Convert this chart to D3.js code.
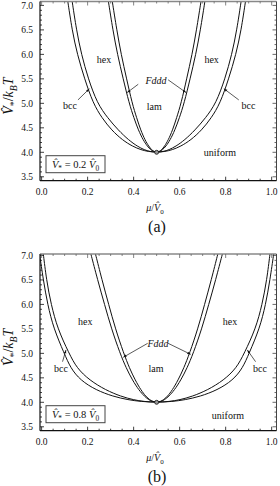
<!DOCTYPE html>
<html><head><meta charset="utf-8">
<script src="https://cdn.jsdelivr.net/npm/d3@7"></script>
<style>
body{margin:0;background:#fff}
svg{display:block}
text{font-family:"Liberation Serif","DejaVu Serif",serif;fill:#111}
</style>
</head><body>
<svg id="chart" width="280" height="486"></svg>
<script>
// ---------- data ----------
const xTicks = [0.0, 0.2, 0.4, 0.6, 0.8, 1.0];
const xTickLabels = ["0.0", "0.2", "0.4", "0.6", "0.8", "1.0"];
const yTicks = [3.5, 4.0, 4.5, 5.0, 5.5, 6.0, 6.5, 7.0];
const yTickLabels = ["3.5", "4.0", "4.5", "5.0", "5.5", "6.0", "6.5", "7.0"];

// panel (a): V* = 0.2 V0   (left branch x, right branch x, at shared y levels)
const yLevelsA = [7.09, 6.5, 6.0, 5.5, 5.0, 4.7, 4.45, 4.25, 4.12, 4.05, 4.015, 4.0];
const aUniBccL = [0.1136, 0.1324, 0.155, 0.1869, 0.2237, 0.2624, 0.3047, 0.3513, 0.396, 0.4326, 0.4631, 0.5];
const aUniBccR = [0.8864, 0.8676, 0.845, 0.8131, 0.7763, 0.7376, 0.6953, 0.6487, 0.604, 0.5674, 0.5369, 0.5];
const aBccHexL = [0.1326, 0.1514, 0.173, 0.2029, 0.2417, 0.2874, 0.3337, 0.3783, 0.417, 0.4466, 0.4707, 0.5];
const aBccHexR = [0.8674, 0.8486, 0.827, 0.7971, 0.7583, 0.7126, 0.6663, 0.6217, 0.583, 0.5534, 0.5293, 0.5];
const aHexFdddL = [0.29, 0.3097, 0.3297, 0.3546, 0.3805, 0.4014, 0.4209, 0.4415, 0.46, 0.4747, 0.4863, 0.5];
const aHexFdddR = [0.71, 0.6903, 0.6703, 0.6454, 0.6195, 0.5986, 0.5791, 0.5585, 0.54, 0.5253, 0.5137, 0.5];
const aFdddLamL = [0.3069, 0.3267, 0.3457, 0.3696, 0.3935, 0.4134, 0.4309, 0.4495, 0.466, 0.4787, 0.4883, 0.5];
const aFdddLamR = [0.6931, 0.6733, 0.6543, 0.6304, 0.6065, 0.5866, 0.5691, 0.5505, 0.534, 0.5213, 0.5117, 0.5];

// panel (b): V* = 0.8 V0
const yLevelsB = [7.07, 6.5, 6.0, 5.5, 5.0, 4.7, 4.45, 4.25, 4.12, 4.05, 4.015, 4.0];
const bUniBccL = [-0.010, 0.0073, 0.026, 0.0528, 0.0984, 0.1258, 0.1687, 0.2365, 0.3107, 0.3769, 0.4326, 0.5];
const bUniBccR = [1.010, 0.9927, 0.974, 0.9472, 0.9016, 0.8742, 0.8313, 0.7635, 0.6893, 0.6231, 0.5674, 0.5];
const bBccHexL = [0.0064, 0.0211, 0.0412, 0.0697, 0.1193, 0.1526, 0.2086, 0.2786, 0.3451, 0.4, 0.4452, 0.5];
const bBccHexR = [0.9936, 0.9789, 0.9588, 0.9303, 0.8807, 0.8474, 0.7914, 0.7214, 0.6549, 0.6, 0.5548, 0.5];
const bHexFdddL = [0.212, 0.2435, 0.2735, 0.3039, 0.3409, 0.3677, 0.3952, 0.4228, 0.4472, 0.4663, 0.4817, 0.5];
const bHexFdddR = [0.788, 0.7565, 0.7265, 0.6961, 0.6591, 0.6323, 0.6048, 0.5772, 0.5528, 0.5337, 0.5183, 0.5];
const bFdddLamL = [0.232, 0.2625, 0.2915, 0.3209, 0.3569, 0.3817, 0.4072, 0.4318, 0.4532, 0.4703, 0.4837, 0.5];
const bFdddLamR = [0.768, 0.7375, 0.7085, 0.6791, 0.6431, 0.6183, 0.5928, 0.5682, 0.5468, 0.5297, 0.5163, 0.5];

const criticalPoint = [0.5, 4.0];

// region labels: [text, x, y, italic]; arrows: [x0, y0, x1, y1]
const labelsA = [["hex", 0.271, 5.89, false], ["hex", 0.739, 5.89, false], ["bcc", 0.123, 4.955, false],
  ["bcc", 0.899, 4.95, false], ["lam", 0.49, 4.935, false], ["Fddd", 0.497, 5.47, true], ["uniform", 0.775, 4.0, false]];
const arrowsA = [[0.158, 5.07, 0.208, 5.30], [0.857, 5.07, 0.792, 5.30], [0.42, 5.39, 0.372, 5.22], [0.55, 5.48, 0.628, 5.22]];
const labelsB = [["hex", 0.19, 5.65, false], ["hex", 0.819, 5.65, false], ["bcc", 0.084, 4.70, false],
  ["bcc", 0.949, 4.70, false], ["lam", 0.497, 4.70, false], ["Fddd", 0.506, 5.2, true], ["uniform", 0.81, 3.74, false]];
const arrowsB = [[0.091, 4.83, 0.106, 5.07], [0.93, 4.83, 0.894, 5.07], [0.461, 5.205, 0.355, 4.92], [0.55, 5.205, 0.648, 4.98]];

// ---------- drawing ----------
const svg = d3.select("#chart");
const defs = svg.append("defs");
defs.append("marker").attr("id", "arr").attr("viewBox", "0 0 10 10").attr("refX", 10).attr("refY", 5)
  .attr("markerWidth", 5).attr("markerHeight", 5).attr("orient", "auto")
  .append("path").attr("d", "M0,1.5L10,5L0,8.5z").attr("fill", "#111");

function mathText(sel, parts, size) {
  let prevSub = false;
  parts.forEach(p => {
    const ts = sel.append("tspan").text(p.t);
    if (p.it) ts.attr("font-style", "italic");
    if (p.sub) { ts.attr("font-size", size * 0.7).attr("dy", size * 0.28); prevSub = true; }
    else if (prevSub) { ts.attr("dy", -size * 0.28); prevSub = false; }
  });
}

const panels = [
  { id: "a", yLevels: yLevelsA, curves: [[aUniBccL, aUniBccR], [aBccHexL, aBccHexR], [aHexFdddL, aHexFdddR], [aFdddLamL, aFdddLamR]],
    yDomain: [3.42, 7.08], top: 1.5, bottom: 180.7, vstar: "0.2", tag: "(a)", labels: labelsA, arrows: arrowsA },
  { id: "b", yLevels: yLevelsB, curves: [[bUniBccL, bUniBccR], [bBccHexL, bBccHexR], [bHexFdddL, bHexFdddR], [bFdddLamL, bFdddLamR]],
    yDomain: [3.42, 7.03], top: 254, bottom: 430.7, vstar: "0.8", tag: "(b)", labels: labelsB, arrows: arrowsB }
];

const left = 40, right = 276.5;

panels.forEach(P => {
  const x = d3.scaleLinear().domain([-0.007, 1.021]).range([left, right]);
  const y = d3.scaleLinear().domain(P.yDomain).range([P.bottom, P.top]);
  const g = svg.append("g");

  defs.append("clipPath").attr("id", "clip" + P.id).append("rect")
    .attr("x", left).attr("y", P.top).attr("width", right - left).attr("height", P.bottom - P.top);

  // curves (smooth B-spline through the read points)
  const line = d3.line().x(d => x(d[0])).y(d => y(d[1])).curve(d3.curveBasis);
  const cg = g.append("g").attr("clip-path", `url(#clip${P.id})`);
  P.curves.forEach(([xl, xr]) => {
    const pts = [];
    xl.forEach((v, i) => pts.push([v, P.yLevels[i]]));
    for (let i = xr.length - 2; i >= 0; i--) pts.push([xr[i], P.yLevels[i]]);
    cg.append("path").attr("d", line(pts)).attr("fill", "none").attr("stroke", "#111").attr("stroke-width", 1);
  });

  // frame
  g.append("line").attr("x1", left).attr("x2", right).attr("y1", P.top).attr("y2", P.top).attr("stroke", "#888").attr("stroke-width", 1.5);
  g.append("line").attr("x1", right).attr("x2", right).attr("y1", P.top).attr("y2", P.bottom).attr("stroke", "#444").attr("stroke-width", 1);
  g.append("line").attr("x1", left).attr("x2", left).attr("y1", P.top).attr("y2", P.bottom).attr("stroke", "#111").attr("stroke-width", 1.2);
  g.append("line").attr("x1", left).attr("x2", right).attr("y1", P.bottom).attr("y2", P.bottom).attr("stroke", "#111").attr("stroke-width", 1.2);

  // ticks
  const yMinor = d3.range(35, 71).map(v => v / 10);
  yMinor.forEach(v => {
    const major = Math.abs(v * 2 - Math.round(v * 2)) < 1e-6;
    const L = major ? 4 : 2;
    g.append("line").attr("x1", left).attr("x2", left + L).attr("y1", y(v)).attr("y2", y(v)).attr("stroke", "#111").attr("stroke-width", 0.8);
    g.append("line").attr("x1", right).attr("x2", right - L).attr("y1", y(v)).attr("y2", y(v)).attr("stroke", "#444").attr("stroke-width", 0.8);
  });
  const xMinor = d3.range(0, 21).map(v => v / 20);
  xMinor.forEach(v => {
    const major = Math.abs(v * 5 - Math.round(v * 5)) < 1e-6;
    const L = major ? 4 : 2;
    g.append("line").attr("x1", x(v)).attr("x2", x(v)).attr("y1", P.bottom).attr("y2", P.bottom - L).attr("stroke", "#111").attr("stroke-width", 0.8);
    g.append("line").attr("x1", x(v)).attr("x2", x(v)).attr("y1", P.top).attr("y2", P.top + L).attr("stroke", "#666").attr("stroke-width", 0.8);
  });

  // tick labels
  yTicks.forEach((v, i) => {
    g.append("text").attr("x", 33).attr("y", y(v) + 3.3).attr("text-anchor", "end").attr("font-size", 9.5).text(yTickLabels[i]);
  });
  xTicks.forEach((v, i) => {
    g.append("text").attr("x", x(v)).attr("y", P.bottom + 14.5).attr("text-anchor", "middle").attr("font-size", 9.5).text(xTickLabels[i]);
  });

  // critical point
  g.append("circle").attr("cx", x(criticalPoint[0])).attr("cy", y(criticalPoint[1])).attr("r", 2)
    .attr("fill", "#999").attr("stroke", "#111").attr("stroke-width", 0.8);

  // arrows
  P.arrows.forEach(a => {
    g.append("line").attr("x1", x(a[0])).attr("y1", y(a[1])).attr("x2", x(a[2])).attr("y2", y(a[3]))
      .attr("stroke", "#111").attr("stroke-width", 0.7).attr("marker-end", "url(#arr)");
  });

  // region labels
  P.labels.forEach(l => {
    const t = g.append("text").attr("x", x(l[1])).attr("y", y(l[2]) + 3.5).attr("text-anchor", "middle").attr("font-size", 10).text(l[0]);
    if (l[3]) t.attr("font-style", "italic");
  });

  // box
  const bx = left + 6, bw = 59, bh = 17, by = P.bottom - 8 - bh;
  g.append("rect").attr("x", bx).attr("y", by).attr("width", bw).attr("height", bh).attr("fill", "#fff").attr("stroke", "#444").attr("stroke-width", 1);
  const bt = g.append("text").attr("x", bx + bw / 2).attr("y", by + 12).attr("text-anchor", "middle").attr("font-size", 10.5);
  mathText(bt, [{ t: "V\u0302", it: true }, { t: "*", sub: true }, { t: " = " + P.vstar + " " }, { t: "V\u0302", it: true }, { t: "0", sub: true }], 10.5);

  // axis labels
  const xl = g.append("text").attr("x", 155).attr("y", P.bottom + 30).attr("text-anchor", "middle").attr("font-size", 10);
  mathText(xl, [{ t: "\u03BC", it: true }, { t: "/" }, { t: "V\u0302", it: true }, { t: "0", sub: true }], 10);
  const ymid = (P.top + P.bottom) / 2;
  const yl = g.append("text").attr("transform", `translate(13,${ymid + 5}) rotate(-90)`).attr("text-anchor", "middle").attr("font-size", 14);
  mathText(yl, [{ t: "V\u0302", it: true }, { t: "*", sub: true }, { t: "/" }, { t: "k", it: true }, { t: "B", it: true, sub: true }, { t: "T", it: true }], 14);

  g.append("text").attr("x", 157).attr("y", P.bottom + 51).attr("text-anchor", "middle").attr("font-size", 16).text(P.tag);
});
</script>
</body></html>
